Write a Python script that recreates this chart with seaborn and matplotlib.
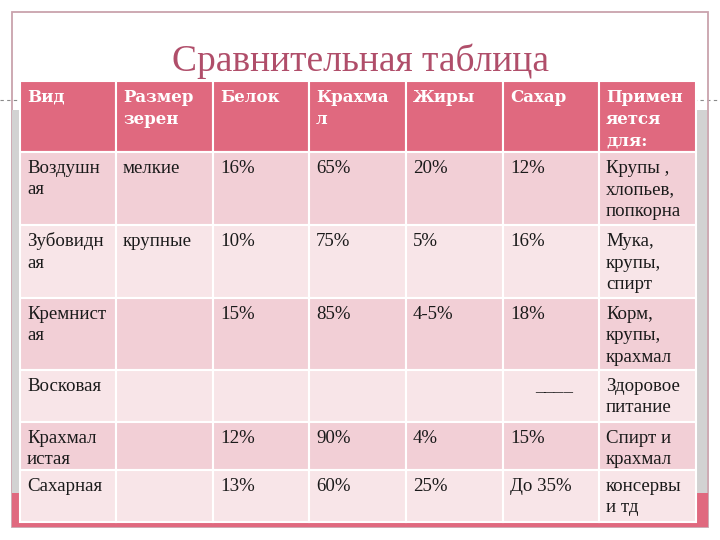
import matplotlib
matplotlib.use("Agg")
import matplotlib.pyplot as plt
from matplotlib.patches import Rectangle
import seaborn as sns

# ---- data ----
title = "Сравнительная таблица"
header = ["Вид", "Размер\nзерен", "Белок", "Крахма\nл", "Жиры", "Сахар", "Примен\nяется\nдля:"]
vid = ["Воздушн\nая", "Зубовидн\nая", "Кремнист\nая", "Восковая", "Крахмал\nистая", "Сахарная"]
razmer = ["мелкие", "крупные", "", "", "", ""]
belok = ["16%", "10%", "15%", "", "12%", "13%"]
krakhmal = ["65%", "75%", "85%", "", "90%", "60%"]
zhiry = ["20%", "5%", "4-5%", "", "4%", "25%"]
sakhar = ["12%", "16%", "18%", "____", "15%", "До 35%"]
primenenie = ["Крупы ,\nхлопьев,\nпопкорна", "Мука,\nкрупы,\nспирт", "Корм,\nкрупы,\nкрахмал",
              "Здоровое\nпитание", "Спирт и\nкрахмал", "консервы\nи тд"]
columns = [vid, razmer, belok, krakhmal, zhiry, sakhar, primenenie]

# ---- layout ----
col_edges = [20, 116, 213, 309, 406, 503, 599, 696]
row_edges = [81, 152, 225, 298, 370, 422, 470, 522]

HEADER = "#E0697F"
ODD = "#F2CFD6"
EVEN = "#F8E5E8"
TITLE_C = "#B04E6A"
FRAME_C = "#C9A3AD"
GRAY = "#D2D2D2"

sns.set_theme(style="white")
plt.rcParams['font.family'] = ['Liberation Serif', 'DejaVu Serif']

fig = plt.figure(figsize=(7.2, 5.4), dpi=100)
ax = fig.add_axes([0, 0, 1, 1])
ax.set_xlim(0, 720)
ax.set_ylim(540, 0)
ax.axis("off")

# dashed guide line
ax.plot([0, 720], [100, 100], ls=(0, (3, 3)), color="#8a8a8a", lw=0.8, zorder=1)
# frame
ax.add_patch(Rectangle((12, 12), 696, 515, fill=False, ec=FRAME_C, lw=1.3, zorder=2))
# side gray bands
ax.add_patch(Rectangle((12, 110), 8, 385, color=GRAY, lw=0, zorder=2))
ax.add_patch(Rectangle((696, 110), 11, 385, color=GRAY, lw=0, zorder=2))
# bottom pink band
ax.add_patch(Rectangle((12, 493), 696, 34, color=HEADER, lw=0, zorder=2))

# title
ax.text(360, 71, title, ha="center", va="baseline", fontsize=27, color=TITLE_C, zorder=5)

line_h = 21.5
ncols = len(header)
nrows = len(vid)
for r in range(nrows + 1):
    top, bot = row_edges[r], row_edges[r + 1]
    if r == 0:
        fc = HEADER
    else:
        fc = ODD if r % 2 == 1 else EVEN
    for c in range(ncols):
        left, right = col_edges[c], col_edges[c + 1]
        ax.add_patch(Rectangle((left, top), right - left, bot - top, fc=fc,
                               ec="white", lw=1.5, zorder=3))
        if r == 0:
            txt = header[c]
            kw = dict(color="white", fontweight="bold", fontsize=12,
                      family=["DejaVu Serif"])
        else:
            txt = columns[c][r - 1]
            kw = dict(color="#1a1a1a", fontsize=13.6)
        if not txt:
            continue
        if txt.startswith("_"):
            ax.text((left + right) / 2 + 3, top + 21, txt, ha="center", va="baseline",
                    zorder=5, **kw)
            continue
        for i, line in enumerate(txt.split("\n")):
            ax.text(left + 7, top + 21 + i * line_h, line, ha="left", va="baseline",
                    zorder=5, **kw)

fig.savefig("out.png", dpi=100)
